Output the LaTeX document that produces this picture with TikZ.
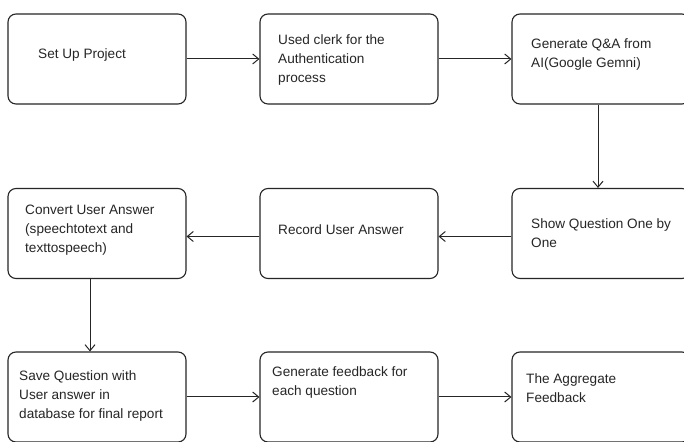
\documentclass[tikz,border=0pt]{standalone}
\usepackage{fontspec}
\setmainfont{Liberation Sans}
\usetikzlibrary{arrows.meta}
\begin{document}
\begin{tikzpicture}[x=1pt,y=1pt,
  box/.style={draw=black!85,line width=1.1pt,rounded corners=8pt,minimum width=178pt,minimum height=90pt,inner sep=0pt},
  txt/.style={align=left,anchor=west,inner sep=0pt,font=\fontsize{13.6}{19}\selectfont,text=black!85},
  conn/.style={draw=black!85,line width=1pt,-{Straight Barb[length=6pt,width=10pt,line width=1pt]}}
]
\useasboundingbox (0,0) rectangle (684,441);
\fill[white] (0,0) rectangle (684,441);
\node[box] (b1) at (97,382) {};
\node[box] (b2) at (349,382) {};
\node[box] (b3) at (601,382) {};
\node[box] (b4) at (97,207.5) {};
\node[box] (b5) at (349,207.5) {};
\node[box] (b6) at (601,207.5) {};
\node[box] (b7) at (97,44) {};
\node[box] (b8) at (349,44) {};
\node[box] (b9) at (601,44) {};

\node[txt] (t1) at (38,386.5) {Set Up Project};
\node[txt] (t2) at (278,381.5) {Used clerk for the\\Authentication\\process};
\node[txt] (t3) at (531,386.5) {Generate Q\&A from\\AI(Google Gemni)};
\node[txt] (t4) at (25,210.5) {Convert User Answer\\(speechtotext and\\texttospeech)};
\node[txt] (t5) at (278,211.5) {Record User Answer};
\node[txt] (t6) at (531,208) {Show Question One by\\One};
\node[txt] (t7) at (19,45) {Save Question with\\User answer in\\database for final report};
\node[txt] (t8) at (272,58.5) {Generate feedback for\\each question};
\node[txt] (t9) at (526,53) {The Aggregate\\Feedback};

\draw[conn] (b1) -- (b2);
\draw[conn] (b2) -- (b3);
\draw[conn] ([xshift=-3pt]b3.south) -- ([xshift=-3pt]b6.north);
\draw[conn] ([yshift=-3pt]b6.west) -- ([yshift=-3pt]b5.east);
\draw[conn] ([yshift=-3pt]b5.west) -- ([yshift=-3pt]b4.east);
\draw[conn] ([xshift=-7pt]b4.south) -- ([xshift=-7pt]b7.north);
\draw[conn] (b7) -- (b8);
\draw[conn] (b8) -- (b9);
\end{tikzpicture}
\end{document}
